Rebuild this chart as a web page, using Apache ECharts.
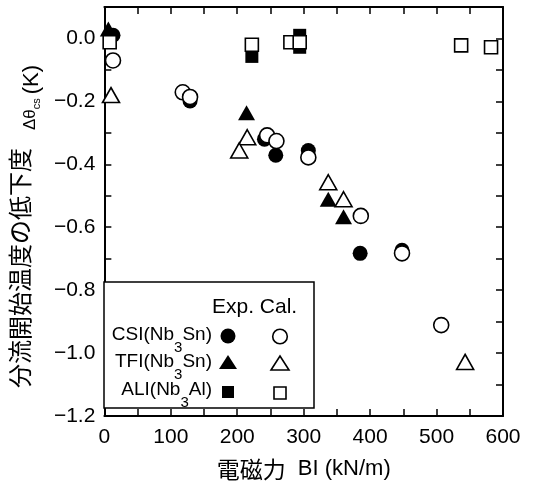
<!DOCTYPE html>
<html>
<head>
<meta charset="utf-8">
<script src="https://cdn.jsdelivr.net/npm/echarts@6/dist/echarts.min.js"></script>
<style>html,body{margin:0;padding:0;background:#fff}#c{width:534px;height:491px}</style>
</head>
<body>
<div id="c"></div>
<script>
// Data: [BI (kN/m), Δθcs (K)]
const csiExp = [[13,0.01],[129,-0.199],[241,-0.32],[258,-0.371],[307,-0.356],[385,-0.683],[448,-0.673]];
const csiCal = [[13,-0.07],[118,-0.171],[129,-0.186],[245,-0.308],[259,-0.326],[307,-0.378],[386,-0.564],[448,-0.683],[507,-0.911]];
const tfiExp = [[6,0.03],[214,-0.236],[337,-0.511],[360,-0.567]];
const tfiCal = [[10,-0.18],[215,-0.314],[203,-0.356],[337,-0.457],[360,-0.511],[543,-1.028]];
const aliExp = [[222,-0.057],[294,0.01],[294,-0.028]];
const aliCal = [[8,-0.012],[222,-0.02],[280,-0.012],[294,-0.012],[537,-0.022],[582,-0.028]];
const seriesNames = ['CSI(Nb3Sn) Exp.','TFI(Nb3Sn) Exp.','ALI(Nb3Al) Exp.','CSI(Nb3Sn) Cal.','TFI(Nb3Sn) Cal.','ALI(Nb3Al) Cal.'];
const xMin = 0, xMax = 600, xStep = 50;
const yMin = -1.2, yMax = 0.1, yStep = 0.1;

const FONT = 'Liberation Sans';
const JP = 'Noto Sans CJK JP';
const filled = {color:'#000', opacity:1};
const open = {color:'#fff', borderColor:'#000', borderWidth:1.6, opacity:1};

function xFmt(v){ return (Math.round(v) % 100 === 0) ? String(Math.round(v)) : ''; }
function yFmt(v){
  const t = Math.round(v*10);
  if (t % 2 !== 0) return '';
  const s = (Math.abs(t)/10).toFixed(1);
  return t < 0 ? '\u2212' + s : s;
}
const axisLine = {show:true, onZero:false, lineStyle:{color:'#000', width:2}};
const axisTick = {show:true, inside:true, length:7, lineStyle:{color:'#000', width:1.5}};

const chart = echarts.init(document.getElementById('c'), null, {renderer:'canvas'});
chart.setOption({
  animation:false,
  backgroundColor:'#fff',
  grid:{left:95, top:7, right:31, bottom:75, containLabel:false},
  xAxis:[
    {type:'value', min:xMin, max:xMax, interval:xStep, position:'bottom',
     axisLine, axisTick, splitLine:{show:false},
     axisLabel:{formatter:xFmt, fontSize:21, color:'#000', fontFamily:FONT, margin:11},
     name:'{jp|電磁力}{en|  BI (kN/m)}', nameLocation:'middle', nameGap:40,
     nameTextStyle:{padding:[0,0,0,0], rich:{
       jp:{fontSize:23, fontFamily:JP, color:'#000', lineHeight:26},
       en:{fontSize:22, fontFamily:FONT, color:'#000', lineHeight:26}
     }}},
    {type:'value', min:xMin, max:xMax, interval:xStep, position:'top',
     axisLine, axisTick, splitLine:{show:false}, axisLabel:{show:false}}
  ],
  yAxis:[
    {type:'value', min:yMin, max:yMax, interval:yStep, position:'left',
     axisLine, axisTick, splitLine:{show:false},
     axisLabel:{formatter:yFmt, fontSize:21, color:'#000', fontFamily:FONT, margin:9},
     name:'{jp|分流開始温度の低下度}{g|Δθ}{s|cs}{k|(K)}', nameLocation:'middle', nameGap:45, nameRotate:90,
     nameTextStyle:{padding:[0,30,0,0], rich:{
       jp:{fontSize:24, fontFamily:JP, color:'#000', lineHeight:25, verticalAlign:'top'},
       g:{fontSize:17, fontFamily:FONT, color:'#000', lineHeight:17, padding:[14,0,0,18], verticalAlign:'top'},
       s:{fontSize:11, fontFamily:FONT, color:'#000', lineHeight:11, padding:[23,0,0,0], verticalAlign:'top'},
       k:{fontSize:22, fontFamily:FONT, color:'#000', lineHeight:22, padding:[13,0,0,4], verticalAlign:'top'}
     }}},
    {type:'value', min:yMin, max:yMax, interval:yStep, position:'right',
     axisLine, axisTick, splitLine:{show:false}, axisLabel:{show:false}}
  ],
  series:[
    {name:seriesNames[0], type:'scatter', data:csiExp, symbol:'circle', symbolSize:15, itemStyle:filled},
    {name:seriesNames[1], type:'scatter', data:tfiExp, symbol:'triangle', symbolSize:[17,15], itemStyle:filled},
    {name:seriesNames[2], type:'scatter', data:aliExp, symbol:'rect', symbolSize:13, itemStyle:filled},
    {name:seriesNames[3], type:'scatter', data:csiCal, symbol:'circle', symbolSize:15, itemStyle:open},
    {name:seriesNames[4], type:'scatter', data:tfiCal, symbol:'triangle', symbolSize:[17,15], itemStyle:open},
    {name:seriesNames[5], type:'scatter', data:aliCal, symbol:'rect', symbolSize:13, itemStyle:open}
  ],
  graphic:[
    {type:'rect', z:100, shape:{x:104, y:282, width:210, height:126}, style:{fill:'#fff', stroke:'#000', lineWidth:1.5}},
    {type:'text', z:101, x:212, y:307, style:{text:'Exp. Cal.', font:'21px "Liberation Sans"', fill:'#000', align:'left', verticalAlign:'middle'}},
    ...[['CSI(Nb','3','Sn)',336],['TFI(Nb','3','Sn)',363],['ALI(Nb','3','Al)',391]].map(r => ({
      type:'text', z:101, x:212, y:r[3]-11,
      style:{text:'{a|'+r[0]+'}{s|'+r[1]+'}{a|'+r[2]+'}', align:'right', verticalAlign:'top', fill:'#000',
        rich:{
          a:{fontSize:19, fontFamily:FONT, lineHeight:22, verticalAlign:'top', fill:'#000'},
          s:{fontSize:15, fontFamily:FONT, lineHeight:15, padding:[15,0,0,0], verticalAlign:'top', fill:'#000'}
        }}
    })),
    {type:'circle', z:101, shape:{cx:228, cy:336, r:7.5}, style:{fill:'#000'}},
    {type:'polygon', z:101, shape:{points:[[219,369],[237,369],[228,355]]}, style:{fill:'#000'}},
    {type:'rect', z:101, shape:{x:222, y:386, width:12, height:12}, style:{fill:'#000'}},
    {type:'circle', z:101, shape:{cx:280, cy:336.5, r:7.3}, style:{fill:'#fff', stroke:'#000', lineWidth:1.6}},
    {type:'polygon', z:101, shape:{points:[[271,370],[289,370],[280,356]]}, style:{fill:'#fff', stroke:'#000', lineWidth:1.6}},
    {type:'rect', z:101, shape:{x:274, y:387, width:12, height:12}, style:{fill:'#fff', stroke:'#000', lineWidth:1.6}}
  ]
});
</script>
</body>
</html>
